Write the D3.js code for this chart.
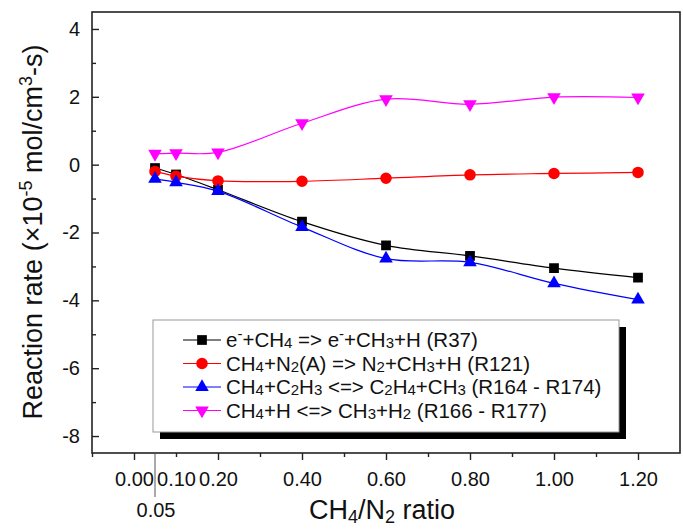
<!DOCTYPE html>
<html>
<head>
<meta charset="utf-8">
<script src="https://cdn.jsdelivr.net/npm/d3@7"></script>
<style>
  html, body { margin: 0; padding: 0; background: #fff; }
  svg { display: block; font-family: "Liberation Sans", Arial, sans-serif; }
</style>
</head>
<body>
<svg id="chart" width="683" height="531"></svg>
<script>
// ---- data ----
const ratios = [0.05, 0.1, 0.2, 0.4, 0.6, 0.8, 1.0, 1.2];
const r37  = [-0.10, -0.29, -0.74, -1.68, -2.38, -2.69, -3.05, -3.33];
const r121 = [-0.20, -0.34, -0.48, -0.49, -0.40, -0.30, -0.26, -0.23];
const r164 = [-0.42, -0.52, -0.78, -1.84, -2.77, -2.88, -3.50, -3.98];
const r166 = [0.32, 0.34, 0.36, 1.22, 1.93, 1.78, 1.99, 1.98];

const seriesNames = [
  "e^{-}+CH_{4} => e^{-}+CH_{3}+H (R37)",
  "CH_{4}+N_{2}(A) => N_{2}+CH_{3}+H (R121)",
  "CH_{4}+C_{2}H_{3} <=> C_{2}H_{4}+CH_{3} (R164 - R174)",
  "CH_{4}+H <=> CH_{3}+H_{2} (R166 - R177)"
];
const seriesColors = ["#000000", "#ff0000", "#0000ff", "#ff00ff"];
const seriesSymbols = ["square", "circle", "triangleUp", "triangleDown"];
const seriesValues = [r37, r121, r164, r166];

const xTickLabels = [0.0, 0.1, 0.2, 0.4, 0.6, 0.8, 1.0, 1.2];
const xMajorTicks = [0.0, 0.2, 0.4, 0.6, 0.8, 1.0, 1.2];
const xMinorTicks = [-0.1, 0.1, 0.3, 0.5, 0.7, 0.9, 1.1];
const xExtraLabel = 0.05;
const yMajorTicks = [-8, -6, -4, -2, 0, 2, 4];
const yMinorTicks = [-7, -5, -3, -1, 1, 3];
const xTitle = "CH_{4}/N_{2} ratio";
const yTitle = "Reaction rate (×10^{-5} mol/cm^{3}-s)";

// ---- layout ----
const svg = d3.select("#chart");
const L = 92, R = 680, T = 12, B = 453;
const x = d3.scaleLinear().domain([-0.1, 1.3]).range([L, R]);
const y = d3.scaleLinear().domain([4.5, -8.5]).range([T, B]);

// rich text helper: ^{..} superscript, _{..} subscript
function richText(sel, str, opts) {
  const parts = [];
  const re = /([\^_])\{([^}]*)\}/g;
  let last = 0, m;
  while ((m = re.exec(str)) !== null) {
    if (m.index > last) parts.push({t: str.slice(last, m.index), k: ""});
    parts.push({t: m[2], k: m[1] === "^" ? "sup" : "sub"});
    last = re.lastIndex;
  }
  if (last < str.length) parts.push({t: str.slice(last), k: ""});
  let cur = 0;
  parts.forEach(p => {
    let target = 0;
    if (p.k === "sup") target = -opts.supShift;
    if (p.k === "sub") target = opts.subShift;
    const ts = sel.append("tspan").text(p.t);
    if (target !== cur) { ts.attr("dy", target - cur); cur = target; }
    if (p.k) ts.attr("font-size", opts.small);
  });
}

// frame
svg.append("rect").attr("x", L).attr("y", T).attr("width", R - L).attr("height", B - T)
  .attr("fill", "none").attr("stroke", "#222").attr("stroke-width", 1.6);

// y axis ticks (inward)
const yAxisMaj = svg.append("g").attr("transform", `translate(${L},0)`)
  .call(d3.axisLeft(y).tickValues(yMajorTicks).tickSize(-7).tickPadding(12).tickFormat(d3.format("d")));
const yAxisMin = svg.append("g").attr("transform", `translate(${L},0)`)
  .call(d3.axisLeft(y).tickValues(yMinorTicks).tickSize(-4).tickFormat(""));
[yAxisMaj, yAxisMin].forEach(g => {
  g.select(".domain").remove();
  g.selectAll("line").attr("stroke", "#222").attr("stroke-width", 1.4);
});
yAxisMaj.selectAll("text").attr("font-size", 20).attr("fill", "#111")
  .attr("font-family", "Liberation Sans, Arial, sans-serif")
  .text(d => d < 0 ? "-" + Math.abs(d) : d);

// x axis ticks (outward)
const xAxisMaj = svg.append("g").attr("transform", `translate(0,${B})`)
  .call(d3.axisBottom(x).tickValues(xMajorTicks).tickSize(7).tickFormat(""));
const xAxisMin = svg.append("g").attr("transform", `translate(0,${B})`)
  .call(d3.axisBottom(x).tickValues(xMinorTicks).tickSize(4).tickFormat(""));
const xAxisLab = svg.append("g").attr("transform", `translate(0,${B})`)
  .call(d3.axisBottom(x).tickValues(xTickLabels).tickSize(0).tickPadding(19).tickFormat(d3.format(".2f")));
[xAxisMaj, xAxisMin, xAxisLab].forEach(g => {
  g.select(".domain").remove();
  g.selectAll("line").attr("stroke", "#222").attr("stroke-width", 1.4);
});
xAxisLab.selectAll("text").attr("font-size", 20).attr("fill", "#111")
  .attr("font-family", "Liberation Sans, Arial, sans-serif");

// 0.05 extra label with leader line
svg.append("line").attr("x1", x(xExtraLabel)).attr("x2", x(xExtraLabel))
  .attr("y1", B).attr("y2", B + 44).attr("stroke", "#555").attr("stroke-width", 1);
svg.append("text").attr("x", x(xExtraLabel) + 1).attr("y", B + 64)
  .attr("text-anchor", "middle").attr("font-size", 20).attr("fill", "#111")
  .text(d3.format(".2f")(xExtraLabel));

// axis titles
const xt = svg.append("text").attr("x", 382).attr("y", 519)
  .attr("text-anchor", "middle").attr("font-size", 27).attr("fill", "#111");
richText(xt, xTitle, {supShift: 9, subShift: 4, small: 18});

const yt = svg.append("text").attr("transform", "translate(42,232) rotate(-90)")
  .attr("text-anchor", "middle").attr("font-size", 27).attr("fill", "#111");
richText(yt, yTitle, {supShift: 10, subShift: 6, small: 18});

// symbols
function symbolPath(kind) {
  if (kind === "square") return d3.symbol(d3.symbolSquare, 95)();
  if (kind === "circle") return d3.symbol(d3.symbolCircle, 105)();
  return d3.symbol(d3.symbolTriangle, 80)();
}
function symbolTransform(kind, px, py) {
  return kind === "triangleDown" ? `translate(${px},${py}) rotate(180)` : `translate(${px},${py})`;
}

// series
const line = d3.line().curve(d3.curveCatmullRom.alpha(0.5))
  .x(d => x(d[0])).y(d => y(d[1]));

seriesValues.forEach((vals, i) => {
  const pts = ratios.map((r, j) => [r, vals[j]]);
  const g = svg.append("g");
  g.append("path").attr("d", line(pts)).attr("fill", "none")
    .attr("stroke", seriesColors[i]).attr("stroke-width", 1.2);
  g.selectAll("path.m").data(pts).enter().append("path").attr("class", "m")
    .attr("d", symbolPath(seriesSymbols[i]))
    .attr("transform", d => symbolTransform(seriesSymbols[i], x(d[0]), y(d[1])))
    .attr("fill", seriesColors[i]);
});

// legend
const lgX = 153, lgY = 320, lgW = 466, lgH = 112;
svg.append("rect").attr("x", lgX + 7).attr("y", lgY + 7).attr("width", lgW).attr("height", lgH)
  .attr("fill", "#000");
svg.append("rect").attr("x", lgX).attr("y", lgY).attr("width", lgW).attr("height", lgH)
  .attr("fill", "#fff").attr("stroke", "#999").attr("stroke-width", 1);
seriesNames.forEach((name, i) => {
  const cy = lgY + 20 + i * 23.5;
  svg.append("line").attr("x1", lgX + 30).attr("x2", lgX + 68).attr("y1", cy).attr("y2", cy)
    .attr("stroke", seriesColors[i]).attr("stroke-width", 1.2);
  svg.append("path").attr("d", symbolPath(seriesSymbols[i]))
    .attr("transform", symbolTransform(seriesSymbols[i], lgX + 49, cy))
    .attr("fill", seriesColors[i]);
  const t = svg.append("text").attr("x", lgX + 73).attr("y", cy + 7)
    .attr("font-size", 20.5).attr("fill", "#111");
  richText(t, name, {supShift: 8, subShift: 1, small: 15});
});
</script>
</body>
</html>
